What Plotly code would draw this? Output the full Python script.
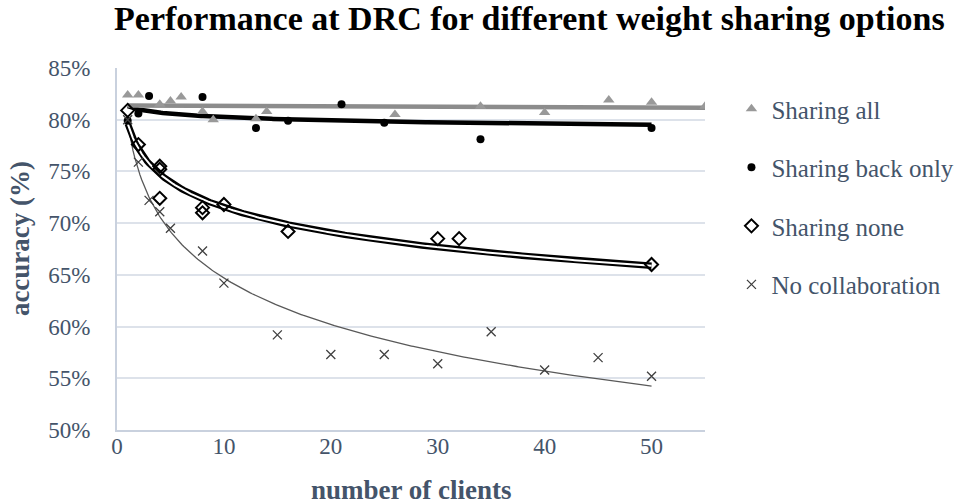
import numpy as np
import plotly.graph_objects as go

# ---- data ----
all_x = [1, 2, 4, 5, 6, 8, 9, 13, 14, 26, 34, 40, 46, 50, 55]
all_y = [82.4, 82.4, 81.5, 81.8, 82.2, 80.8, 80.0, 80.1, 80.8, 80.5, 81.3, 80.7, 81.9, 81.7, 81.3]

back_x = [1, 2, 3, 8, 13, 16, 21, 25, 34, 50]
back_y = [79.9, 80.6, 82.3, 82.2, 79.2, 79.9, 81.5, 79.7, 78.1, 79.2]

none_x = [1, 2, 4, 4, 4, 8, 8, 10, 16, 30, 32, 50]
none_y = [80.9, 77.6, 75.5, 75.2, 72.4, 71.5, 71.0, 71.8, 69.2, 68.5, 68.5, 66.0]

nocol_x = [1, 2, 3, 4, 5, 8, 10, 15, 20, 25, 30, 35, 40, 45, 50]
nocol_y = [80.0, 75.9, 72.2, 71.1, 69.5, 67.3, 64.2, 59.2, 57.3, 57.3, 56.4, 59.5, 55.8, 57.0, 55.2]

series_names = ["Sharing all", "Sharing back only", "Sharing none", "No collaboration"]
y_ticks = [50, 55, 60, 65, 70, 75, 80, 85]
y_tick_labels = [f"{v}%" for v in y_ticks]
x_ticks = [0, 10, 20, 30, 40, 50]

TEXT = "#44546A"
FONT = "Liberation Serif"


def log_trend(xs, ys):
    """Logarithmic trendline (least squares on ln x), like a spreadsheet trendline."""
    xs = np.asarray(xs, float)
    b, a = np.polyfit(np.log(xs), np.asarray(ys, float), 1)
    tx = np.linspace(xs.min(), xs.max(), 300)
    return tx, a + b * np.log(tx)


def lin_trend(xs, ys):
    """Linear trendline (least squares)."""
    xs = np.asarray(xs, float)
    b, a = np.polyfit(xs, np.asarray(ys, float), 1)
    tx = np.linspace(xs.min(), xs.max(), 50)
    return tx, a + b * tx


fig = go.Figure()

# trendlines
tx, ty = log_trend(nocol_x, nocol_y)
fig.add_trace(go.Scatter(x=tx, y=ty, mode="lines", line=dict(color="#595959", width=1.3),
                         showlegend=False, hoverinfo="skip"))
tx, ty = log_trend(none_x, none_y)
fig.add_trace(go.Scatter(x=tx, y=ty, mode="lines", line=dict(color="#000000", width=6.5),
                         showlegend=False, hoverinfo="skip"))
fig.add_trace(go.Scatter(x=tx, y=ty, mode="lines", line=dict(color="#ffffff", width=2),
                         showlegend=False, hoverinfo="skip"))
tx, ty = log_trend(back_x, back_y)
fig.add_trace(go.Scatter(x=tx, y=ty, mode="lines", line=dict(color="#000000", width=4.5),
                         showlegend=False, hoverinfo="skip"))
tx, ty = lin_trend(all_x, all_y)
fig.add_trace(go.Scatter(x=tx, y=ty, mode="lines", line=dict(color="#8C8C8C", width=4.5),
                         showlegend=False, hoverinfo="skip"))

# markers
fig.add_trace(go.Scatter(x=all_x, y=all_y, mode="markers", name=series_names[0], legendgroup="a",
                         marker=dict(symbol="triangle-up", size=10, color="#999999")))
fig.add_trace(go.Scatter(x=back_x, y=back_y, mode="markers", name=series_names[1], legendgroup="b",
                         marker=dict(symbol="circle", size=8, color="#000000")))
fig.add_trace(go.Scatter(x=none_x, y=none_y, mode="markers", name=series_names[2], legendgroup="c",
                         marker=dict(symbol="diamond-open", size=10, color="#000000",
                                     line=dict(width=2, color="#000000"))))
fig.add_trace(go.Scatter(x=nocol_x, y=nocol_y, mode="markers", name=series_names[3], legendgroup="d",
                         marker=dict(symbol="x-thin", size=9, color="#404040",
                                     line=dict(width=1.3, color="#404040"))))

fig.update_layout(
    width=959, height=504,
    margin=dict(l=117, r=254, t=68, b=74, autoexpand=False),
    paper_bgcolor="white", plot_bgcolor="white",
    font=dict(family=FONT, color=TEXT, size=23),
    title=dict(text="<b>Performance at DRC for different weight sharing options</b>",
               x=0.552, xanchor="center", y=0.965, yanchor="middle",
               font=dict(family=FONT, size=34, color="#000000")),
    xaxis=dict(range=[0, 55], tickvals=x_ticks, showgrid=False, zeroline=False,
               showline=True, linecolor="#C9D1DE", linewidth=2,
               tickfont=dict(size=23, color=TEXT), ticks="", ticklabelstandoff=-6,
               automargin=False),
    yaxis=dict(range=[50, 85], tickvals=y_ticks, ticktext=y_tick_labels,
               showgrid=True, gridcolor="#DDE2EA", gridwidth=2, zeroline=False,
               showline=True, linecolor="#C9D1DE", linewidth=2,
               tickfont=dict(size=23, color=TEXT), ticks="", ticklabelstandoff=20,
               automargin=False),
    legend=dict(x=1.045, xanchor="left", y=0.95, yanchor="top",
                font=dict(size=25, color=TEXT), tracegroupgap=23,
                bgcolor="rgba(0,0,0,0)"),
    annotations=[
        dict(text="<b>number of clients</b>", xref="paper", yref="paper", x=0.5, y=-0.165,
             xanchor="center", yanchor="middle", showarrow=False,
             font=dict(family=FONT, size=27, color=TEXT)),
        dict(text="<b>accuracy (%)</b>", xref="paper", yref="paper", x=-0.165, y=0.53,
             xanchor="center", yanchor="middle", showarrow=False, textangle=-90,
             font=dict(family=FONT, size=27, color=TEXT)),
    ],
)

fig.write_html("out.html", config={"displayModeBar": False},
               post_script="document.body.style.margin='0';document.body.style.padding='0';")
